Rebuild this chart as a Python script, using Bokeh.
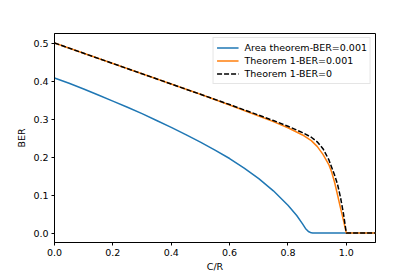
from bokeh.plotting import figure
from bokeh.models import Range1d, FixedTicker, Legend, LegendItem, PrintfTickFormatter
from bokeh.embed import file_html
from bokeh.resources import INLINE

# Data
area_x = [0.0, 0.05, 0.1, 0.15, 0.2, 0.25, 0.3, 0.35, 0.4, 0.45, 0.5, 0.55, 0.6, 0.65, 0.7, 0.75, 0.8, 0.83, 0.85, 0.86, 0.87, 0.88, 0.885, 1.1]
area_y = [0.408, 0.394, 0.379, 0.363, 0.347, 0.331, 0.314, 0.296, 0.278, 0.259, 0.239, 0.218, 0.196, 0.171, 0.143, 0.111, 0.073, 0.046, 0.024, 0.012, 0.004, 0.0005, 0.0, 0.0]

th1_x = [0.0, 0.1, 0.2, 0.3, 0.4, 0.5, 0.6, 0.7, 0.75, 0.8, 0.85, 0.88, 0.9, 0.92, 0.94, 0.95, 0.96, 0.97, 0.98, 0.99, 1.0, 1.1]
th1_y = [0.5, 0.473, 0.446, 0.419, 0.392, 0.365, 0.337, 0.308, 0.293, 0.277, 0.258, 0.243, 0.228, 0.207, 0.180, 0.160, 0.133, 0.100, 0.066, 0.034, 0.0, 0.0]

th0_x = [0.0, 0.1, 0.2, 0.3, 0.4, 0.5, 0.6, 0.7, 0.75, 0.8, 0.85, 0.88, 0.9, 0.92, 0.94, 0.96, 0.97, 0.98, 0.99, 1.0, 1.1]
th0_y = [0.5, 0.473, 0.446, 0.419, 0.392, 0.365, 0.338, 0.310, 0.296, 0.281, 0.264, 0.252, 0.240, 0.222, 0.193, 0.152, 0.128, 0.094, 0.052, 0.0, 0.0]

x_ticks = [0.0, 0.2, 0.4, 0.6, 0.8, 1.0]
y_ticks = [0.0, 0.1, 0.2, 0.3, 0.4, 0.5]
labels = ["Area theorem-BER=0.001", "Theorem 1-BER=0.001", "Theorem 1-BER=0"]

FONT = "DejaVu Sans"
FS = "9.5px"

p = figure(width=409, height=275, output_backend="svg", toolbar_location=None,
           x_range=Range1d(0, 1.1), y_range=Range1d(-0.025, 0.525),
           min_border_left=54, min_border_right=34, min_border_top=33, min_border_bottom=33)
p.background_fill_color = "white"
p.border_fill_color = "white"
p.outline_line_color = "black"
p.outline_line_width = 1
p.xgrid.visible = False
p.ygrid.visible = False

r1 = p.line(area_x, area_y, line_color="#1f77b4", line_width=1.5)
r2 = p.line(th1_x, th1_y, line_color="#ff7f0e", line_width=1.5)
r3 = p.line(th0_x, th0_y, line_color="black", line_width=1.5, line_dash="5 2")

for ax in (p.xaxis[0], p.yaxis[0]):
    ax.axis_line_color = "black"
    ax.major_tick_line_color = "black"
    ax.minor_tick_line_color = None
    ax.major_tick_in = 0
    ax.major_tick_out = 3
    ax.major_label_text_font = FONT
    ax.major_label_text_font_size = FS
    ax.major_label_text_color = "black"
    ax.axis_label_text_font = FONT
    ax.axis_label_text_font_size = FS
    ax.axis_label_text_font_style = "normal"
    ax.axis_label_text_color = "black"
    ax.major_label_standoff = 3
    ax.formatter = PrintfTickFormatter(format="%.1f")

p.xaxis[0].ticker = FixedTicker(ticks=x_ticks)
p.yaxis[0].ticker = FixedTicker(ticks=y_ticks)
p.xaxis[0].axis_label = "C/R"
p.yaxis[0].axis_label = "BER"
p.xaxis[0].axis_label_standoff = 2
p.yaxis[0].axis_label_standoff = 3

legend = Legend(items=[LegendItem(label=labels[0], renderers=[r1]),
                       LegendItem(label=labels[1], renderers=[r2]),
                       LegendItem(label=labels[2], renderers=[r3])],
                location="top_right")
legend.margin = 4
legend.padding = 3
legend.spacing = 0
legend.label_text_font = FONT
legend.label_text_font_size = FS
legend.label_text_color = "black"
legend.label_height = 13
legend.glyph_height = 13
legend.glyph_width = 22
legend.label_standoff = 6
legend.border_line_color = "#cccccc"
legend.border_line_width = 1
legend.background_fill_alpha = 0.8
p.add_layout(legend)

open("out.html", "w").write(file_html(p, INLINE))
